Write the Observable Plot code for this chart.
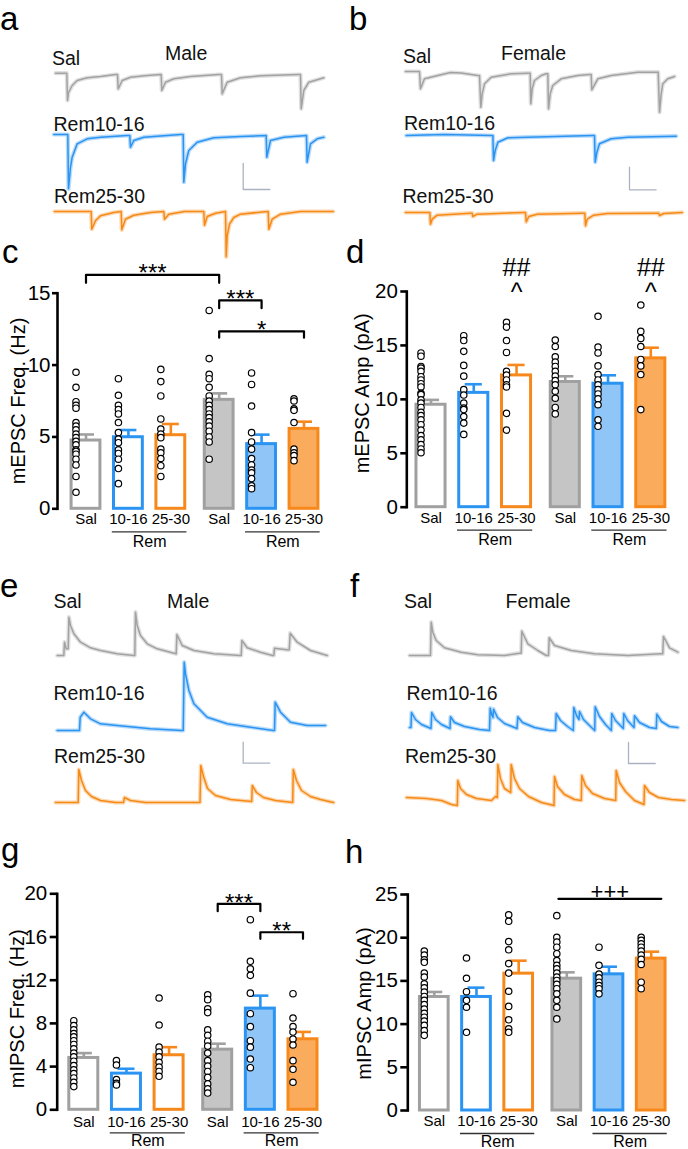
<!DOCTYPE html>
<html><head><meta charset="utf-8">
<script src="https://cdn.jsdelivr.net/npm/d3@7"></script>
<script src="https://cdn.jsdelivr.net/npm/@observablehq/plot@0.6"></script>
<style>
html,body{margin:0;padding:0;background:#fff;}
#fig{position:relative;width:688px;height:1149px;overflow:hidden;font-family:"Liberation Sans",Arial,Helvetica,sans-serif;}
#fig svg{position:absolute;}
</style></head><body><div id="fig"></div>
<script>
// ---------------- categories ----------------
const sexes = ["Male", "Female"];
const conditions = ["Sal", "10-16", "25-30"];
const groupLabel = "Rem";
const traceNames = ["Sal", "Rem10-16", "Rem25-30"];

// ---------------- c: mEPSC frequency (Hz) ----------------
const cMean = [4.75, 4.98, 5.12, 7.58, 4.5, 5.56];
const cSem  = [0.42, 0.5, 0.78, 0.45, 0.66, 0.5];
const cPts = [
  [9.5, 8.45, 7.45, 7.2, 7.0, 6.0, 5.75, 5.5, 5.2, 4.95, 4.7, 4.45, 4.1, 4.0, 3.8, 3.45, 3.05, 2.25, 1.15],
  [9.05, 7.9, 7.2, 6.9, 6.6, 6.0, 5.3, 4.85, 4.6, 4.1, 3.85, 3.45, 2.8, 1.75],
  [9.7, 8.85, 7.85, 6.25, 5.55, 5.2, 4.95, 4.15, 3.9, 3.5, 3.0, 2.25],
  [13.8, 10.45, 9.35, 9.05, 8.45, 7.85, 7.5, 7.2, 6.9, 6.6, 6.35, 6.05, 5.75, 5.4, 5.0, 4.65, 3.45],
  [9.45, 8.65, 7.15, 5.3, 4.65, 4.15, 3.5, 3.05, 2.7, 2.5, 2.1, 1.6, 1.4],
  [7.65, 7.5, 6.95, 6.85, 6.0, 4.15, 3.9, 3.7, 3.35]
];
const cTicks = [0, 5, 10, 15];
const cSig = [
  {a: [0, 0], b: [1, 0], y: 16.28, drop: 0.56, label: "***"},
  {a: [1, 0], b: [1, 1], y: 14.5, drop: 0.54, label: "***"},
  {a: [1, 0], b: [1, 2], y: 12.35, drop: 0.45, label: "*"}
];

// ---------------- d: mEPSC amplitude (pA) ----------------
const dMean = [9.5, 10.6, 12.22, 11.61, 11.45, 13.8];
const dSem  = [0.45, 0.8, 0.97, 0.53, 0.78, 0.99];
const dPts = [
  [14.3, 14.0, 13.05, 12.9, 12.6, 12.1, 11.8, 11.45, 11.15, 10.55, 10.45, 9.95, 9.65, 9.25, 8.8, 8.5, 8.1, 7.65, 7.15, 6.65, 6.25, 5.8, 5.4, 5.05],
  [15.9, 15.45, 14.45, 13.15, 12.15, 10.9, 10.4, 9.65, 9.2, 9.05, 8.4, 7.8, 6.75],
  [17.15, 16.7, 15.45, 14.35, 12.6, 12.25, 11.8, 11.35, 11.15, 8.7, 7.15],
  [15.5, 14.9, 13.95, 13.45, 13.05, 12.6, 12.15, 11.75, 11.35, 10.75, 10.1, 9.25, 8.65],
  [17.7, 14.85, 14.3, 13.1, 12.3, 11.8, 11.35, 10.9, 10.5, 10.05, 9.5, 8.1, 7.5],
  [18.75, 16.3, 15.65, 14.9, 13.7, 13.1, 12.3, 9.05]
];
const dTicks = [0, 5, 10, 15, 20];
const dMarks = [
  {at: [0, 2], y: 22.17, label: "##"}, {at: [0, 2], y: 19.82, label: "^"},
  {at: [1, 2], y: 22.17, label: "##"}, {at: [1, 2], y: 19.82, label: "^"}
];

// ---------------- g: mIPSC frequency (Hz) ----------------
const gMean = [4.8, 3.35, 5.05, 5.57, 9.37, 6.53];
const gSem  = [0.45, 0.45, 0.75, 0.55, 1.2, 0.68];
const gPts = [
  [8.25, 7.8, 7.4, 7.05, 6.75, 6.4, 6.05, 5.65, 5.25, 4.9, 4.5, 4.1, 3.7, 3.35, 2.95, 2.55, 2.15],
  [4.55, 4.15, 2.8, 2.45, 2.3],
  [10.35, 7.85, 5.8, 5.35, 4.9, 4.4, 3.95, 3.55, 3.1],
  [10.65, 10.2, 9.35, 9.0, 7.4, 6.9, 6.35, 5.9, 5.25, 4.55, 4.05, 3.55, 3.0, 2.4, 1.95, 1.55],
  [17.6, 13.75, 13.05, 12.45, 10.8, 8.9, 7.7, 6.4, 5.8, 4.7, 3.9],
  [10.75, 8.5, 7.7, 7.2, 6.55, 6.0, 4.55, 3.75, 2.55]
];
const gTicks = [0, 4, 8, 12, 16, 20];
const gSig = [
  {a: [1, 0], b: [1, 1], y: 19.07, drop: 0.68, label: "***"},
  {a: [1, 1], b: [1, 2], y: 16.44, drop: 0.61, label: "**"}
];

// ---------------- h: mIPSC amplitude (pA) ----------------
const hMean = [13.14, 13.14, 15.84, 15.26, 15.76, 17.58];
const hSem  = [0.58, 1.08, 1.5, 0.73, 0.88, 0.8];
const hPts = [
  [18.45, 18.0, 17.45, 17.15, 15.9, 15.45, 14.65, 14.2, 13.7, 13.2, 12.75, 12.25, 11.75, 11.25, 10.8, 10.35, 9.85, 9.25, 8.7],
  [17.65, 15.3, 13.75, 12.75, 11.95, 9.05],
  [22.65, 21.9, 19.55, 18.6, 17.0, 15.9, 13.8, 12.05, 10.5, 9.45, 9.05],
  [22.55, 20.05, 19.5, 18.9, 18.15, 17.35, 16.8, 16.4, 15.9, 15.45, 15.05, 14.6, 14.1, 13.5, 12.75, 11.95, 10.6],
  [18.9, 16.8, 15.8, 15.35, 14.85, 14.45, 14.1, 13.5],
  [20.05, 19.7, 19.3, 18.9, 18.45, 18.0, 17.5, 16.9, 14.85, 14.1]
];
const hTicks = [0, 5, 10, 15, 20, 25];
const hSig = [
  {a: [1, 0], b: [1, 2], y: 24.5, drop: 0, label: "+++", ext: [-0.2, 0.24], font: 22, dy: -7}
];

// ---------------- traces (time a.u., current a.u.; keypoints) -------------
// panel a (mEPSC, male)
const aSal = [[0,1.3],[11.3,1.3],[12,-26],[13,-18],[16.7,-11],[21.7,-6],[31.7,-3.3],[45,-2],[60,0],[62,0],[62.7,-14.3],[66.7,-6],[75,-2.7],[91.7,-1],[105,0],[105.7,0],[106.3,-16],[110,-7.7],[118.3,-4.3],[135,-2],[163.3,0],[166,0],[166.7,-19.3],[171.7,-7.7],[185,-3.3],[205,-1.3],[243.3,0],[245,0],[245.7,-34.3],[248.3,-16],[253.3,-7.7],[265,-4.3],[268.3,-3.3]];
const aR10 = [[0,1],[14,1],[14.7,-53.3],[16.7,-31.7],[18.4,-21.7],[23.4,-8.3],[33.4,-3.3],[46.7,-1.7],[73.4,0],[76,0],[76.7,-11.7],[80,-5],[90,-1.7],[126.7,1],[129.4,1],[130,-46.7],[131.7,-28.3],[135,-15],[143.4,-6.7],[160,-2.3],[186.7,-1],[212.4,0],[213,-21.7],[216.7,-5],[230,-1.7],[252.7,0],[253.3,-26.7],[256.7,-8.3],[263.4,-3.3],[270,-1.7]];
const aR25 = [[0,0],[36.7,0],[37.3,-17.7],[41,-9.3],[46,-4.3],[59.3,-1],[66.7,0],[67.3,-18.3],[71,-7.7],[79.3,-3.7],[96,-1],[109.3,0],[110,-7.7],[114.3,-2.7],[130,0],[149.3,0],[150,-13.7],[152.7,-5],[161,-1.7],[171,0],[171.7,-45.3],[172.7,-24.3],[175,-12.7],[179.3,-6],[186,-2.7],[202.7,-1],[213.7,0],[214.3,-17.7],[217.7,-7.7],[226,-2.7],[246,0],[278.7,0]];
// panel b (mEPSC, female)
const bSal = [[0,0],[14,0],[15,-17.3],[19,-7.3],[32.3,-4],[45,-1],[55.7,-1.5],[72.3,-4],[74,-4],[75.3,-35.7],[76.7,-22.3],[79,-12.3],[85.7,-5.7],[105.7,-2.3],[122.3,-1.7],[124.7,-1.7],[125.3,-32.3],[126.7,-17.3],[129,-9],[135.7,-4],[140.7,-2.3],[142.3,-2.3],[143,-37.3],[144.7,-22.3],[147.3,-14],[155.7,-7.3],[172.3,-4],[184,-3],[185.7,-3],[186.3,-18.3],[192.3,-7.3],[205.7,-4],[232.3,-0.7],[252.7,-0.7],[254,-40.7],[255.7,-22.3],[257.3,-12.3],[262.3,-7.3],[269,-5]];
const bR10 = [[0,0],[38.3,1],[85,0],[86.7,0],[87.3,-25],[89,-15],[91.7,-6.7],[101.7,-2.3],[121.7,-1.7],[186.7,0],[188.3,0],[189,-26.7],[190.7,-16.7],[193.3,-8.3],[205,-3.3],[221.7,-1.7],[270,-0.7]];
const bR25 = [[0,0],[24.3,0],[25,-11.7],[26.7,-6.7],[31.7,-2.7],[65,-0.7],[66.7,-0.7],[67.3,-4],[71.7,-1.7],[118.3,0],[120,0],[120.7,-9.3],[123.3,-4],[131.7,-1.7],[176.7,-0.7],[179.3,-0.7],[180,-13.3],[181.7,-6.7],[188.3,-2.7],[201.7,-1],[251.7,-0.7],[253.3,-0.7],[254,-3],[258.3,-1],[276.7,0]];
// panel e (mIPSC, male)
const eSal = [[0,0],[6.6,0],[7.3,13.3],[9,6.7],[11,6.7],[11.7,38.3],[13.3,30],[16.7,21.7],[23.3,13.3],[33.3,7.7],[43.3,5],[60,1.7],[76.7,0],[77.6,0],[78.3,43.3],[80,30],[83.3,20],[90,11.7],[100,6.7],[116.7,2.3],[119,1.7],[119.7,21],[125,10],[136.7,5],[156.7,1.7],[182.7,0],[184,0],[184.7,15],[190,7.7],[203.3,3.3],[215.3,0],[216.6,0],[217.3,7.3],[230,5.7],[232,5.7],[233,22.3],[240,13.3],[253.3,5],[270,0]];
const eR10 = [[0,0],[22.3,0],[23,13.3],[26.7,18.3],[33.3,11.7],[43.3,6.7],[60,5],[93.3,1.7],[124.3,0],[126,0],[127,68.3],[128.3,56.7],[131.7,40],[136.7,26.7],[150,13.3],[170,6.7],[193.3,3.3],[216,0],[217.3,0],[218,28.3],[223.3,18.3],[233.3,8.3],[250,5],[268.3,5]];
const eR25 = [[0,0],[22.7,0],[23.3,33],[26,22],[30,12],[36,6],[45,2],[60,0],[68,0],[69,5],[75,2],[90,0],[144.5,0],[145.3,37],[148,26],[152,14],[160,7],[175,3],[196.2,1],[196.8,17],[201,10],[208,5],[220,2],[237.2,0],[237.8,33],[241,22],[246,12],[255,6],[265,3],[278,0]];
// panel f (mIPSC, female)
const fSal = [[0,0],[21,0],[21.7,33.3],[23.3,23.3],[26.7,15],[35,7.7],[51.7,3.3],[68.3,0.7],[95,0],[110,2.3],[111.7,2.3],[112.3,24.3],[118.3,11.7],[128.3,5],[136.7,0],[139,0],[139.7,17.7],[145,10],[161.7,5],[185,1.7],[218.3,0],[251.7,1.7],[253.3,1.7],[254,19],[260,7.7],[268.3,3.3]];
const fR10 = [[0,0],[1.5,0],[2,15],[6,8],[12,3],[21.5,-1],[22.3,15],[26,8],[32,3],[40.5,-1],[41,10.7],[45,5],[55,1],[70,-2],[80,-3],[80.7,19.3],[82.5,12],[83.5,10],[84,18.3],[88,10],[95,4],[107.5,-1],[108.3,10.7],[113,5],[125,0],[140,-3],[146,-3],[146.7,14],[151,7],[158,1],[163.8,-3],[164.3,20],[167,12],[169.5,8],[170,16],[174,8],[180,2],[185.2,-3],[185.7,20.7],[190,11],[196,3],[201.8,-3],[202.3,14],[206,7],[213.8,-1],[214.3,14],[218,7],[224.5,0],[225,11.7],[230,5],[240,0],[246.8,-1],[247.3,13.3],[252,6],[260,1],[268.3,0]];
const fR25 = [[0,3],[20,2],[35,0],[45,-4],[50.8,-5],[51.3,20],[54,12],[60,6],[70,2],[85,0],[89,4],[90.8,3],[91.3,36],[94,22],[98,12],[104.2,8],[104.7,36],[108,22],[113,12],[122,4],[135,-2],[147.5,-5],[148,24],[151,14],[158,6],[168,1],[174.8,0],[175.3,25],[179,15],[186,7],[198,2],[209.2,0],[209.7,30],[213,18],[219,9],[228,0],[237.5,-4],[238,15],[243,8],[252,3],[265,1],[278,0]];
// calibration bars (time a.u., current a.u.)
const scaleBarsLen = {a: [26.6, 26], b: [26.7, 22.6], e: [26.6, 21], f: [26.7, 21]};

// ---------------- styling ----------------
const FONT = '"Liberation Sans", Arial, Helvetica, sans-serif';
const GRAY = "#a2a2a2", BLUE = "#2b93f1", ORANGE = "#f68a17";
const strokeCol = {"Sal": "#a0a0a0", "10-16": "#2b94f2", "25-30": "#f7891c"};
const femaleFill = {"Sal": "#c5c5c5", "10-16": "#8fc6f7", "25-30": "#fbab5c"};
const SCALEBAR = "#aab2c2";
const GAP = 3.14, HALF = 0.34, CAP = 0.2;

const fig = document.getElementById("fig");
function place(svg, left, top) {
  svg.style.position = "absolute";
  svg.style.left = left + "px";
  svg.style.top = top + "px";
  fig.appendChild(svg);
}

// ---------------- trace panels ----------------
function tracePlot(points, color, x0, base, left, extra) {
  const H = 180, MID = 90;
  const marks = [
    Plot.line(points, {x: d => d[0], y: d => d[1], stroke: color, strokeWidth: 4.2, strokeOpacity: 0.33}),
    Plot.line(points, {x: d => d[0], y: d => d[1], stroke: color, strokeWidth: 1.5})
  ];
  if (extra) marks.push(extra);
  const svg = Plot.plot({
    width: 344, height: H, margin: 0,
    x: {domain: [0, 300], range: [x0 - left, x0 - left + 300], axis: null},
    y: {domain: [-(H - MID), MID], range: [H, 0], axis: null},
    style: {background: "transparent", overflow: "visible"},
    marks
  });
  place(svg, left, base - MID);
}
function scaleBar(key, t0, v0) {
  const [tl, al] = scaleBarsLen[key];
  return Plot.line([[t0, v0], [t0, v0 - al], [t0 + tl, v0 - al]],
    {x: d => d[0], y: d => d[1], stroke: SCALEBAR, strokeWidth: 1.3});
}
const traceLayout = [
  {d: aSal, c: GRAY,   x0: 55,    base: 74,    left: 0},
  {d: aR10, c: BLUE,   x0: 53.3,  base: 135,   left: 0, sb: ["a", 189.4, -28]},
  {d: aR25, c: ORANGE, x0: 54,    base: 210.7, left: 0},
  {d: bSal, c: GRAY,   x0: 405,   base: 71,    left: 344},
  {d: bR10, c: BLUE,   x0: 405.7, base: 135,   left: 344, sb: ["b", 223.3, -31.7]},
  {d: bR25, c: ORANGE, x0: 405,   base: 211.7, left: 344},
  {d: eSal, c: GRAY,   x0: 56.7,  base: 655,   left: 0},
  {d: eR10, c: BLUE,   x0: 56.7,  base: 730,   left: 0, sb: ["e", 186, -11.7]},
  {d: eR25, c: ORANGE, x0: 55,    base: 801.7, left: 0},
  {d: fSal, c: GRAY,   x0: 409,   base: 655,   left: 344},
  {d: fR10, c: BLUE,   x0: 409,   base: 726.7, left: 344, sb: ["f", 219, -15]},
  {d: fR25, c: ORANGE, x0: 406,   base: 800,   left: 344}
];
traceLayout.forEach(t => tracePlot(t.d, t.c, t.x0, t.base, t.left, t.sb ? scaleBar(...t.sb) : null));

// ---------------- bar panels ----------------
function barPanel(cfg) {
  const bars = [], dots = [];
  for (let s = 0; s < 2; s++) for (let k = 0; k < 3; k++) {
    const i = s * 3 + k;
    bars.push({s, k, sex: sexes[s], cond: conditions[k], mean: cfg.means[i], sem: cfg.sems[i]});
    cfg.points[i].forEach(v => dots.push({s, k, value: v}));
  }
  const P = d => d.s * GAP + d.k;
  const PA = a => a[0] * GAP + a[1];
  const sc = d => strokeCol[d.cond];
  const fl = d => d.s === 0 ? "#ffffff" : femaleFill[d.cond];
  const groups = [{s: 0}, {s: 1}];
  const sig = cfg.sig || [];
  const sigLines = [];
  sig.forEach((g, i) => {
    const ext = g.ext || [0, 0];
    const xa = PA(g.a) + ext[0], xb = PA(g.b) + ext[1];
    sigLines.push({i, x: xa, y: g.y - g.drop}, {i, x: xa, y: g.y}, {i, x: xb, y: g.y}, {i, x: xb, y: g.y - g.drop});
    g.mid = (xa + xb) / 2;
  });
  const marks = [
    Plot.frame({anchor: "left", stroke: "black", strokeWidth: 2.6}),
    Plot.axisY({ticks: cfg.ticks, tickSize: cfg.tickSize, strokeWidth: 2.6, label: null, tickFormat: () => ""}),
    Plot.text(cfg.ticks, {y: d => d, text: d => String(d), frameAnchor: "left", textAnchor: "end", lineAnchor: "middle",
      dx: -(cfg.tickSize + cfg.tickPadding), fontSize: 20.5}),
    Plot.text([cfg.yLabel], {text: d => d, frameAnchor: "left", textAnchor: "middle", lineAnchor: "middle", rotate: -90, dx: cfg.labelDx, dy: cfg.labelDy, fontSize: 20}),
    Plot.rect(bars, {x1: d => P(d) - HALF, x2: d => P(d) + HALF, y1: () => 0, y2: "mean", fill: fl, stroke: sc, strokeWidth: 3}),
    Plot.ruleX(bars, {x: P, y1: "mean", y2: d => d.mean + d.sem, stroke: sc, strokeWidth: 2.6}),
    Plot.ruleY(bars, {y: d => d.mean + d.sem, x1: d => P(d) - CAP, x2: d => P(d) + CAP, stroke: sc, strokeWidth: 2.6}),
    Plot.dot(dots, {x: P, y: "value", dx: -10, r: 3.2, fill: "white", stroke: "black", strokeWidth: 1.2}),
    Plot.text(bars, {x: P, y: () => 0, text: "cond", dy: cfg.tickDy, fontSize: 15}),
    Plot.ruleY(groups, {y: () => 0, x1: d => d.s * GAP + 1 - 0.38, x2: d => d.s * GAP + 2 + 0.38, dy: 23, stroke: "#333", strokeWidth: 1.3}),
    Plot.text(groups, {x: d => d.s * GAP + 1.5, y: () => 0, text: () => groupLabel, dy: cfg.remDy, fontSize: 16}),
    Plot.line(sigLines, {x: "x", y: "y", z: "i", stroke: "black", strokeWidth: 2.2}),
    Plot.text(sig, {x: "mid", y: "y", text: "label", fontSize: d => d.font || 24, dy: sig.length && sig[0].dy !== undefined ? sig[0].dy : -1})
  ];
  if (cfg.extra) marks.push(Plot.text(cfg.extra, {x: d => PA(d.at), y: "y", text: "label", fontSize: 25}));
  const svg = Plot.plot({
    width: 344, height: cfg.height,
    marginLeft: cfg.mL, marginTop: cfg.mT, marginBottom: cfg.mB, marginRight: 0,
    x: {type: "linear", domain: [0, GAP + 2], range: cfg.xr, axis: null},
    y: {domain: [0, cfg.yMax]},
    color: {type: "identity"},
    style: {background: "transparent", overflow: "visible", fontFamily: FONT, fontSize: "16px", color: "black"},
    marks
  });
  place(svg, cfg.left, cfg.top);
}

barPanel({left: 0, top: 220, height: 340, mL: 57, mT: 72.7, mB: 51.7, xr: [85.5, 303.5], yMax: 15, ticks: cTicks,
  tickSize: 5, tickPadding: 2, yLabel: "mEPSC Freq. (Hz)", labelDx: -38.7, labelDy: 0, tickDy: 10, remDy: 33,
  means: cMean, sems: cSem, points: cPts, sig: cSig});
barPanel({left: 344, top: 220, height: 340, mL: 62.3, mT: 71, mB: 53.3, xr: [86.5, 306.3], yMax: 20, ticks: dTicks,
  tickSize: 6, tickPadding: 3, yLabel: "mEPSC Amp (pA)", labelDx: -44, labelDy: -6, tickDy: 11, remDy: 33,
  means: dMean, sems: dSem, points: dPts, extra: dMarks});
barPanel({left: 0, top: 780, height: 369, mL: 56.7, mT: 113.3, mB: 39.7, xr: [83.3, 302.5], yMax: 20, ticks: gTicks,
  tickSize: 7, tickPadding: 3, yLabel: "mIPSC Freq. (Hz)", labelDx: -40, labelDy: 7, tickDy: 12, remDy: 31.5,
  means: gMean, sems: gSem, points: gPts, sig: gSig});
barPanel({left: 344, top: 780, height: 369, mL: 63.3, mT: 114, mB: 39, xr: [89.8, 306.7], yMax: 25, ticks: hTicks,
  tickSize: 7, tickPadding: 3, yLabel: "mIPSC Amp (pA)", labelDx: -43.3, labelDy: 1, tickDy: 11, remDy: 31.5,
  means: hMean, sems: hSem, points: hPts, sig: hSig});

// ---------------- labels (text overlay) ----------------
const sexTitle = {a: sexes[0], b: sexes[1], e: sexes[0], f: sexes[1]};
const labelLayout = [
  [traceNames[0], 52, 65], [sexTitle.a, 165, 60], [traceNames[1], 53.5, 131], [traceNames[2], 54, 202.7],
  [traceNames[0], 403, 63.3], [sexTitle.b, 501, 60], [traceNames[1], 404, 130], [traceNames[2], 402.5, 203.3],
  [traceNames[0], 53.5, 608.3], [sexTitle.e, 167, 608.3], [traceNames[1], 53.5, 700], [traceNames[2], 54, 763.3],
  [traceNames[0], 404, 607.7], [sexTitle.f, 505.5, 607.7], [traceNames[1], 406.5, 700], [traceNames[2], 405, 762.7]
];
const letterLayout = [["a", 0, 30], ["b", 349, 30], ["c", 2, 263.3], ["d", 346, 263.3],
  ["e", 0, 596.7], ["f", 350, 596.7], ["g", 1, 861], ["h", 345, 863.3]];
const ov = d3.select(fig).append("svg").attr("width", 688).attr("height", 1149)
  .style("left", "0px").style("top", "0px").style("font-family", FONT);
ov.selectAll("text.lab").data(labelLayout).join("text").attr("class", "lab")
  .attr("x", d => d[1]).attr("y", d => d[2]).attr("font-size", 19.5).attr("fill", "#111").text(d => d[0]);
ov.selectAll("text.let").data(letterLayout).join("text").attr("class", "let")
  .attr("x", d => d[1]).attr("y", d => d[2]).attr("font-size", 33).attr("fill", "#000").text(d => d[0]);
</script></body></html>
